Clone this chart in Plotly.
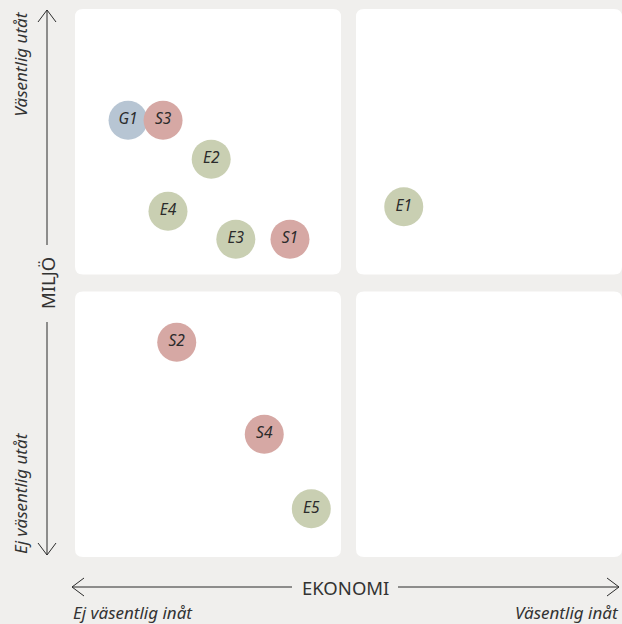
import plotly.graph_objects as go

# ---- data ----
labels = ["G1", "S3", "E2", "E4", "E3", "S1", "E1", "S2", "S4", "E5"]
ekonomi = [9.7, 16.1, 24.9, 17.0, 29.4, 39.3, 60.1, 18.6, 34.6, 43.2]
miljo = [79.7, 79.7, 72.6, 63.1, 58.0, 58.0, 63.9, 39.2, 22.4, 8.8]
group_colors = {"G": "#b7c5d3", "S": "#d6a8a4", "E": "#c9cfb2"}

x_title = "EKONOMI"
y_title = "MILJÖ"
x_low, x_high = "Ej väsentlig inåt", "Väsentlig inåt"
y_low, y_high = "Ej väsentlig utåt", "Väsentlig utåt"

BG = "#f0efed"
INK = "#2b2b2b"
FONT = "Noto Sans"

W, H = 622, 624
ML, MR, MT, MB = 75, 0, 9, 67
PW, PH = W - ML - MR, H - MT - MB


def px_x(p):  # pixel -> paper
    return (p - ML) / PW


def px_y(p):
    return (H - MB - p) / PH


fig = go.Figure()

colors = [group_colors[l[0]] for l in labels]
fig.add_trace(go.Scatter(
    x=ekonomi, y=miljo, mode="markers+text", text=labels,
    textposition="middle center",
    marker=dict(size=39, color=colors, line=dict(width=0)),
    textfont=dict(family=FONT, size=15.5, color=INK, style="italic"),
    hoverinfo="text", showlegend=False, cliponaxis=False,
))

shapes = []


def rrect(x0, x1, y0, y1, r):
    rx = r / PW * 100
    ry = r / PH * 100
    return (f"M {x0+rx},{y0} L {x1-rx},{y0} Q {x1},{y0} {x1},{y0+ry} "
            f"L {x1},{y1-ry} Q {x1},{y1} {x1-rx},{y1} L {x0+rx},{y1} "
            f"Q {x0},{y1} {x0},{y1-ry} L {x0},{y0+ry} Q {x0},{y0} {x0+rx},{y0} Z")


gap_x = 15 / PW * 100 / 2
gap_y = 17 / PH * 100 / 2
for (a, b) in [(0, 50 - gap_x), (50 + gap_x, 100)]:
    for (c, d) in [(0, 50 - gap_y), (50 + gap_y, 100)]:
        shapes.append(dict(type="path", path=rrect(a, b, c, d, 8), xref="x", yref="y",
                           fillcolor="white", line=dict(width=0), layer="below"))

line = dict(color=INK, width=1)
# vertical arrow
vx = px_x(47)
shapes.append(dict(type="line", xref="paper", yref="paper", x0=vx, x1=vx,
                   y0=px_y(10), y1=px_y(245), line=line))
shapes.append(dict(type="line", xref="paper", yref="paper", x0=vx, x1=vx,
                   y0=px_y(322), y1=px_y(555), line=line))
for tip, d in [(10, 1), (555, -1)]:
    shapes.append(dict(type="path", xref="paper", yref="paper",
                       path=f"M {px_x(38)},{px_y(tip + d*12)} L {vx},{px_y(tip)} L {px_x(56)},{px_y(tip + d*12)}",
                       line=line))
# horizontal arrow
hy = px_y(587)
shapes.append(dict(type="line", xref="paper", yref="paper", x0=px_x(72), x1=px_x(292),
                   y0=hy, y1=hy, line=line))
shapes.append(dict(type="line", xref="paper", yref="paper", x0=px_x(398), x1=px_x(619),
                   y0=hy, y1=hy, line=line))
for tip, d in [(72, 1), (619, -1)]:
    shapes.append(dict(type="path", xref="paper", yref="paper",
                       path=f"M {px_x(tip + d*12)},{px_y(578)} L {px_x(tip)},{hy} L {px_x(tip + d*12)},{px_y(596)}",
                       line=line))

ann = []
ann.append(dict(x=px_x(345), y=hy, xref="paper", yref="paper", text=x_title, showarrow=False,
                font=dict(family=FONT, size=18.5, color="#333333"), xanchor="center", yanchor="middle"))
ann.append(dict(x=vx, y=px_y(283), xref="paper", yref="paper", text=y_title, showarrow=False,
                textangle=-90, font=dict(family=FONT, size=18.5, color="#333333"),
                xanchor="center", yanchor="middle"))
it = dict(family=FONT, size=17, color="#333333", style="italic")
ann.append(dict(x=px_x(71), y=px_y(612), xref="paper", yref="paper", text=x_low, showarrow=False,
                font=it, xanchor="left", yanchor="middle"))
ann.append(dict(x=px_x(621), y=px_y(612), xref="paper", yref="paper", text=x_high, showarrow=False,
                font=it, xanchor="right", yanchor="middle"))
ann.append(dict(x=px_x(20), y=px_y(10), xref="paper", yref="paper", text=y_high, showarrow=False,
                textangle=-90, font=it, xanchor="center", yanchor="top"))
ann.append(dict(x=px_x(20), y=px_y(556), xref="paper", yref="paper", text=y_low, showarrow=False,
                textangle=-90, font=it, xanchor="center", yanchor="bottom"))

fig.update_layout(
    width=W, height=H, margin=dict(l=ML, r=MR, t=MT, b=MB, pad=0),
    paper_bgcolor=BG, plot_bgcolor="rgba(0,0,0,0)",
    xaxis=dict(range=[0, 100], visible=False, fixedrange=True),
    yaxis=dict(range=[0, 100], visible=False, fixedrange=True),
    shapes=shapes, annotations=ann,
)

fig.write_html("out.html", config={"displayModeBar": False},
               post_script="document.body.style.margin='0';document.body.style.overflow='hidden';")
